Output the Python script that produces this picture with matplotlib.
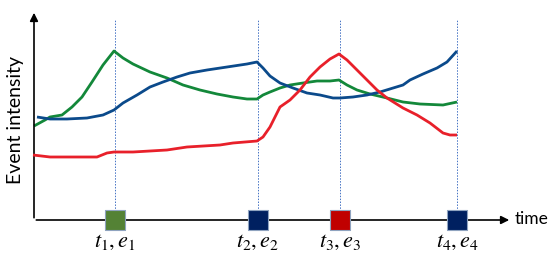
import matplotlib.pyplot as plt

plt.rcParams['mathtext.fontset'] = 'stix'

# event times (x positions) and labels
event_t = [115, 258, 340, 457]
event_labels = [r'$t_1, e_1$', r'$t_2, e_2$', r'$t_3, e_3$', r'$t_4, e_4$']
event_colors = ['#548235', '#002060', '#C00000', '#002060']

# intensity curves (time, intensity)
green_t = [34, 45, 50, 62, 72, 82, 92, 103, 114, 123, 133, 150, 167, 183, 200, 217, 233, 247, 257,
           263, 270, 280, 290, 303, 317, 330, 339, 347, 357, 370, 387, 403, 420, 443, 457]
green_y = [94, 100, 103, 105, 113, 123, 138, 155, 169, 162, 156, 148, 142, 135, 130, 126, 123, 121, 121,
           125, 128, 132, 135, 137, 139, 139, 140, 135, 130, 126, 122, 118, 116, 115, 118]

blue_t = [37, 50, 67, 87, 103, 114, 123, 137, 150, 163, 177, 190, 207, 227, 247, 257,
          263, 270, 280, 293, 307, 320, 333, 340, 353, 367, 380, 403, 410, 423, 437, 447, 457]
blue_y = [103, 101, 101, 102, 105, 110, 117, 125, 133, 138, 143, 147, 150, 153, 156, 158,
          152, 144, 137, 132, 127, 125, 122, 122, 123, 125, 128, 135, 140, 146, 152, 158, 169]

red_t = [33, 50, 67, 97, 107, 114, 133, 167, 187, 220, 233, 257, 263, 270, 280, 290, 300, 310,
         320, 330, 339, 347, 357, 367, 377, 387, 403, 417, 430, 443, 450, 457]
red_y = [65, 63, 63, 63, 67, 68, 68, 70, 73, 75, 77, 79, 83, 93, 113, 120, 130, 143,
         153, 161, 166, 160, 150, 140, 130, 122, 112, 105, 97, 87, 85, 85]

fig = plt.figure(figsize=(5.52, 2.56), dpi=100)
ax = fig.add_axes([0, 0, 1, 1])
ax.set_xlim(0, 552)
ax.set_ylim(-36, 220)
ax.axis('off')

# dotted guides at each event
for t in event_t:
    ax.plot([t, t], [0, 200], color='#4472C4', lw=0.7, ls=(0, (1.5, 1.5)), zorder=1)

ax.plot(green_t, green_y, color='#13883A', lw=2, solid_capstyle='butt', zorder=3)
ax.plot(blue_t, blue_y, color='#0B4A8B', lw=2, solid_capstyle='butt', zorder=3)
ax.plot(red_t, red_y, color='#E8202A', lw=2, solid_capstyle='butt', zorder=4)

# axes arrows
ax.annotate('', xy=(34, 210), xytext=(34, -0.5),
            arrowprops=dict(arrowstyle='-|>', color='black', lw=1.2, mutation_scale=12))
ax.annotate('', xy=(512, 0), xytext=(33.5, 0),
            arrowprops=dict(arrowstyle='-|>', color='black', lw=1.2, mutation_scale=12))

# event markers on time axis
ax.scatter(event_t, [0] * 4, marker='s', s=220, c=event_colors, edgecolors='#8FA3BF',
           linewidths=0.8, zorder=5)
for t, lab in zip(event_t, event_labels):
    ax.text(t, -22, lab, ha='center', va='center', fontsize=16)

ax.text(515, 1, 'time', ha='left', va='center', fontsize=12.5, family='Lato')
ax.text(16, 100, 'Event intensity', rotation=90, ha='center', va='center', fontsize=14,
        family='Lato')

plt.savefig('out.png', dpi=100)
